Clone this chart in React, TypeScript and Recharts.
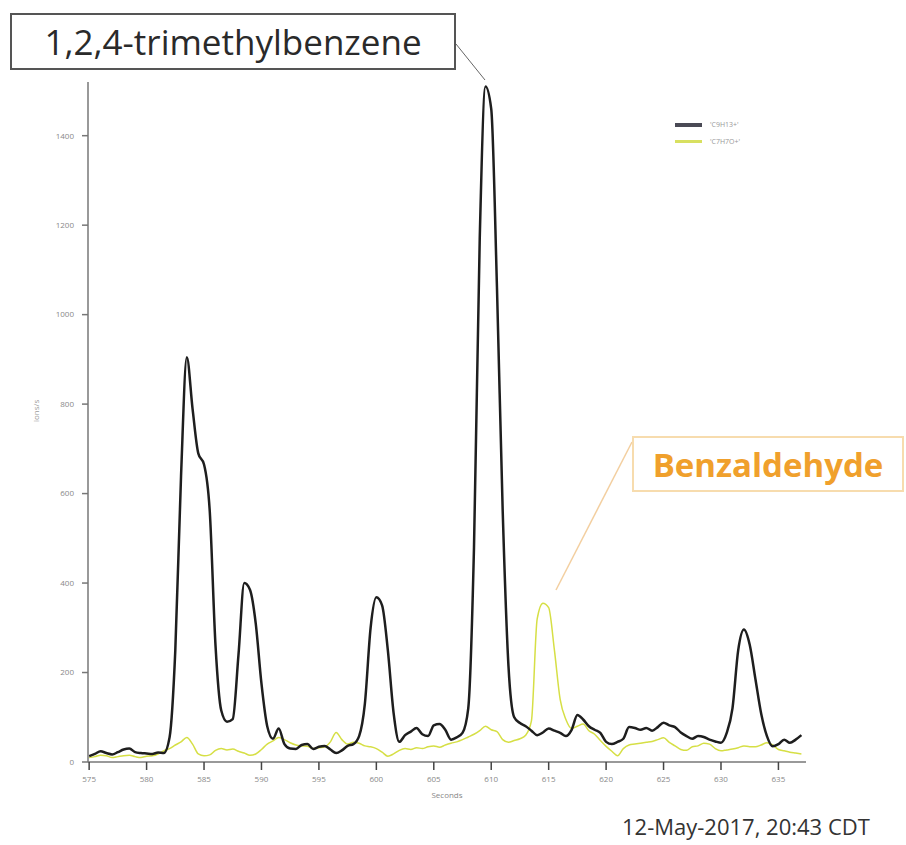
import { LineChart, Line, XAxis, YAxis, Legend } from 'recharts'

// sample grid, 0.5 s steps from 575 s to 637 s
const seconds = Array.from({ length: 125 }, (_, i) => 575 + i * 0.5)

const c9h13 = [
  13, 18, 24, 20, 17, 22, 28, 30, 22, 20,
  19, 18, 21, 20, 55, 250, 640, 905, 790, 690,
  665, 560, 260, 115, 90, 96, 240, 400, 385, 310,
  175, 80, 52, 75, 40, 30, 29, 38, 40, 29,
  34, 36, 28, 20, 26, 36, 40, 58, 130, 300,
  368, 350, 250, 110, 45, 60, 68, 76, 62, 58,
  82, 85, 72, 50, 55, 65, 120, 480, 1170, 1510,
  1460, 1060, 560, 215, 100, 87, 80, 70, 60, 66,
  75, 70, 65, 58, 72, 105, 95, 80, 72, 65,
  45, 40, 45, 52, 78, 76, 72, 76, 70, 78,
  88, 82, 78, 66, 58, 52, 58, 56, 50, 46,
  43, 65, 120, 250, 296, 262, 185, 108, 58, 35,
  40, 50, 43, 50, 60,
]

const c7h7o = [
  10, 12, 15, 14, 10, 12, 14, 15, 12, 10,
  13, 14, 18, 25, 30, 38, 45, 55, 40, 18,
  14, 16, 26, 30, 27, 29, 24, 20, 15, 18,
  28, 40, 47, 55, 50, 43, 38, 36, 35, 30,
  32, 34, 45, 66, 50, 40, 44, 42, 36, 34,
  30, 22, 13, 18, 26, 30, 28, 32, 30, 34,
  36, 33, 38, 42, 45, 50, 56, 62, 70, 80,
  72, 68, 50, 44, 48, 52, 60, 92, 320, 355,
  345, 250, 140, 95, 75, 80, 85, 70, 62, 48,
  35, 24, 14, 30, 38, 40, 42, 44, 46, 50,
  54, 44, 36, 28, 26, 34, 36, 42, 40, 30,
  25, 27, 29, 32, 36, 34, 34, 38, 43, 38,
  28, 25, 22, 20, 18,
]

const xTicks = [575, 580, 585, 590, 595, 600, 605, 610, 615, 620, 625, 630, 635]
const yTicks = [0, 200, 400, 600, 800, 1000, 1200, 1400]

const data = seconds.map((t, i) => ({ t, a: c9h13[i], b: c7h7o[i] }))

const tickStyle = { fill: '#888', fontSize: 8, fontFamily: 'Open Sans' }

function LegendBox({ payload }: any) {
  const items = [...(payload || [])].sort((p: any, q: any) => (p.dataKey > q.dataKey ? 1 : -1))
  return (
    <div style={{ fontFamily: 'Open Sans', fontSize: 7, color: '#999' }}>
      {items.map((p: any) => (
        <div key={p.value} style={{ display: 'flex', alignItems: 'center', height: 17 }}>
          <span style={{ width: 27, height: p.dataKey === 'a' ? 4 : 3, background: p.dataKey === 'a' ? '#4a4a55' : '#d8e060', marginRight: 8 }} />
          {p.value}
        </div>
      ))}
    </div>
  )
}

export default function App() {
  return (
    <div style={{ position: 'absolute', left: 0, top: 0, width: 906, height: 845, background: '#fff', overflow: 'hidden' }}>
      <LineChart width={906} height={845} data={data} margin={{ top: 82, right: 100, left: 28, bottom: 33 }}>
        <XAxis
          dataKey="t" type="number" domain={[574.9, 637.4]} ticks={xTicks} allowDataOverflow
          stroke="#777" strokeWidth={1.5} tickSize={8} tickMargin={6} tick={tickStyle} height={50}
          tickLine={{ stroke: '#444' }}
          label={{ value: 'Seconds', position: 'insideBottom', offset: 14, fill: '#888', fontSize: 8, fontFamily: 'Open Sans' }}
        />
        <YAxis
          type="number" domain={[0, 1520]} ticks={yTicks} width={60}
          stroke="#777" strokeWidth={1.5} tickSize={6} tickMargin={8} tick={tickStyle}
          label={{ value: 'ions/s', angle: -90, position: 'insideLeft', offset: 8, fill: '#999', fontSize: 8, fontFamily: 'Open Sans' }}
        />
        <Legend
          content={<LegendBox />} layout="vertical" align="center" verticalAlign="middle"
          wrapperStyle={{ top: 116, left: 675, width: 120 }}
        />
        <Line dataKey="b" name="'C7H7O+'" stroke="#d6df45" strokeWidth={1.5} dot={false} type="monotone" isAnimationActive={false} />
        <Line dataKey="a" name="'C9H13+'" stroke="#1e1e1e" strokeWidth={2.5} dot={false} type="monotone" isAnimationActive={false} />
      </LineChart>

      <svg width={906} height={845} style={{ position: 'absolute', left: 0, top: 0, pointerEvents: 'none' }}>
        <line x1={456} y1={44} x2={485} y2={80} stroke="#666" strokeWidth={1} />
        <line x1={632} y1={442} x2={556} y2={590} stroke="#f3cfa0" strokeWidth={1.5} />
      </svg>

      <div style={{
        position: 'absolute', left: 10, top: 13, width: 442, height: 53, border: '2px solid #555',
        display: 'flex', alignItems: 'center', justifyContent: 'center',
        fontFamily: 'Open Sans', fontSize: 35, color: '#2a2a2a', background: '#fff',
      }}>1,2,4-trimethylbenzene</div>

      <div style={{
        position: 'absolute', left: 632, top: 436, width: 268, height: 52, border: '2px solid #f7dcae',
        display: 'flex', alignItems: 'center', justifyContent: 'center',
        fontFamily: 'Open Sans', fontWeight: 700, fontSize: 33, color: '#f0a02c', background: '#fff',
      }}>Benzaldehyde</div>

      <div style={{
        position: 'absolute', left: 622, top: 813, fontFamily: 'Open Sans', fontSize: 22, lineHeight: '26px',
        color: '#333', whiteSpace: 'nowrap',
      }}>12-May-2017, 20:43 CDT</div>
    </div>
  )
}
